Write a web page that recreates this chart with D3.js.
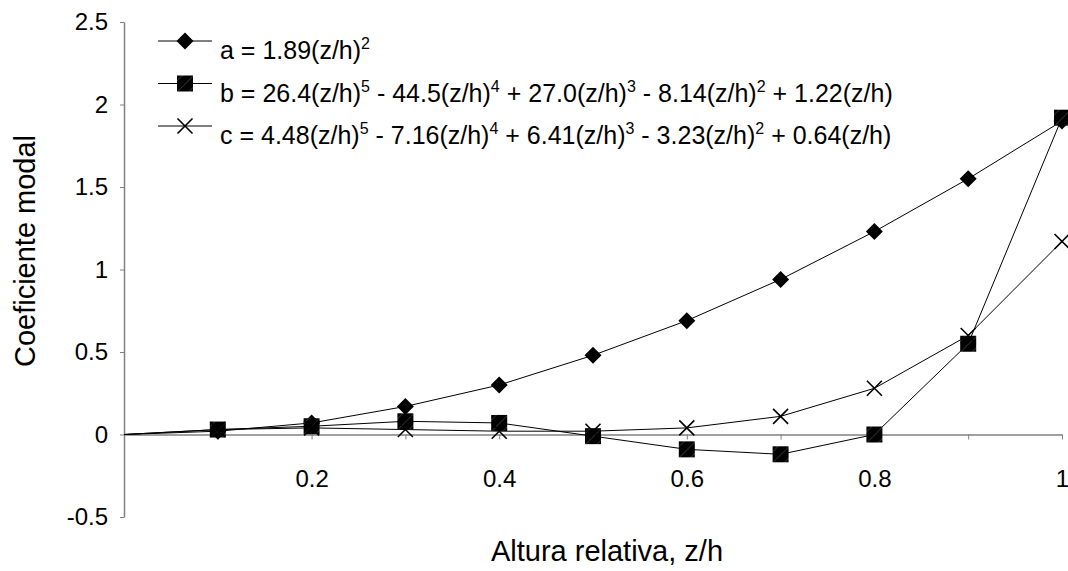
<!DOCTYPE html>
<html>
<head>
<meta charset="utf-8">
<script src="https://cdn.jsdelivr.net/npm/d3@7/dist/d3.min.js"></script>
<style>
  body { margin: 0; background: #fff; }
  text { font-family: "Liberation Sans", Arial, sans-serif; fill: #000; }
  .tick text { font-size: 24px; }
  .axis-label { font-size: 29px; }
  .legend text { font-size: 25px; }
</style>
</head>
<body>
<div id="chart"></div>
<script>
// Data
const zValues = [0, 0.1, 0.2, 0.3, 0.4, 0.5, 0.6, 0.7, 0.8, 0.9, 1];
const seriesA = [0, 0.02, 0.07, 0.17, 0.30, 0.48, 0.69, 0.94, 1.23, 1.55, 1.90];
const seriesB = [0, 0.03, 0.05, 0.08, 0.07, -0.01, -0.09, -0.12, 0.00, 0.55, 1.92];
const seriesC = [0, 0.03, 0.04, 0.03, 0.02, 0.02, 0.04, 0.11, 0.28, 0.60, 1.17];
const xTickLabels = [0.2, 0.4, 0.6, 0.8, 1];
const xTickMarks = [0.1, 0.2, 0.3, 0.4, 0.5, 0.6, 0.7, 0.8, 0.9, 1];
const yTickLabels = [-0.5, 0, 0.5, 1, 1.5, 2, 2.5];
const legendLabels = [
    [["a = 1.89(z/h)", ""], ["2", "sup"]],
    [["b = 26.4(z/h)", ""], ["5", "sup"], [" - 44.5(z/h)", ""], ["4", "sup"], [" + 27.0(z/h)", ""], ["3", "sup"], [" - 8.14(z/h)", ""], ["2", "sup"], [" + 1.22(z/h)", ""]],
    [["c = 4.48(z/h)", ""], ["5", "sup"], [" - 7.16(z/h)", ""], ["4", "sup"], [" + 6.41(z/h)", ""], ["3", "sup"], [" - 3.23(z/h)", ""], ["2", "sup"], [" + 0.64(z/h)", ""]]
];

const width = 1068;
const height = 571;
const margin = { left: 124, right: 6, top: 22, bottom: 54 };

const svg = d3.select("#chart")
    .append("svg")
    .attr("width", width)
    .attr("height", height);

// Square marker fill: black with faint diagonal hatching
const defs = svg.append("defs");
const pat = defs.append("pattern")
    .attr("id", "hatch")
    .attr("patternUnits", "userSpaceOnUse")
    .attr("width", 8)
    .attr("height", 8)
    .attr("patternTransform", "rotate(45)");
pat.append("rect").attr("width", 8).attr("height", 8).attr("fill", "#000");
pat.append("line")
    .attr("x1", 0).attr("y1", 0).attr("x2", 0).attr("y2", 8)
    .attr("stroke", "#555").attr("stroke-width", 1);

const x = d3.scaleLinear()
    .domain([0, 1])
    .range([margin.left, width - margin.right]);

const y = d3.scaleLinear()
    .domain([-0.5, 2.5])
    .range([height - margin.bottom, margin.top]);

// plain hyphen for negatives, like the original
const fmt = d => String(d);

// Left axis
const leftAxis = d3.axisLeft(y)
    .tickValues(yTickLabels)
    .tickSize(4)
    .tickSizeOuter(0)
    .tickPadding(12)
    .tickFormat(fmt);
const gy = svg.append("g")
    .attr("transform", `translate(${margin.left},0)`)
    .call(leftAxis);
gy.select(".domain").attr("stroke", "#808080").attr("stroke-width", 1.5);
gy.selectAll(".tick line").attr("stroke", "#808080");

// Bottom axis at y = 0 (tick marks every 0.1, labels every 0.2)
const bottomMarks = d3.axisBottom(x)
    .tickValues(xTickMarks)
    .tickSize(5)
    .tickSizeOuter(0)
    .tickFormat("");
const gxm = svg.append("g")
    .attr("transform", `translate(0,${y(0)})`)
    .call(bottomMarks);
gxm.select(".domain").attr("stroke", "#808080").attr("stroke-width", 1.5);
gxm.selectAll(".tick line").attr("stroke", "#808080");

const bottomLabels = d3.axisBottom(x)
    .tickValues(xTickLabels)
    .tickSize(0)
    .tickPadding(35)
    .tickFormat(fmt);
const gxl = svg.append("g")
    .attr("transform", `translate(0,${y(0)})`)
    .call(bottomLabels);
gxl.select(".domain").remove();

// Axis labels
svg.append("text")
    .attr("class", "axis-label")
    .attr("text-anchor", "middle")
    .attr("x", 607)
    .attr("y", 561)
    .text("Altura relativa, z/h");

svg.append("text")
    .attr("class", "axis-label")
    .attr("text-anchor", "middle")
    .attr("transform", "translate(35,251) rotate(-90)")
    .text("Coeficiente modal");

// Series
const series = [
    { key: "a", values: seriesA, marker: "diamond" },
    { key: "b", values: seriesB, marker: "square" },
    { key: "c", values: seriesC, marker: "cross" }
];

const line = d3.line()
    .x(d => x(d[0]))
    .y(d => y(d[1]));

const drawMarker = (g, type) => {
    if (type === "diamond") {
        g.append("path")
            .attr("d", "M0,-8.5L8.5,0L0,8.5L-8.5,0Z")
            .attr("fill", "#000");
    } else if (type === "square") {
        g.append("rect")
            .attr("x", -8).attr("y", -8)
            .attr("width", 16).attr("height", 16)
            .attr("fill", "url(#hatch)");
    } else {
        g.append("path")
            .attr("d", "M-7.5,-7.5L7.5,7.5M-7.5,7.5L7.5,-7.5")
            .attr("stroke", "#000")
            .attr("stroke-width", 1.6)
            .attr("fill", "none");
    }
};

series.forEach(s => {
    const pts = zValues.map((z, i) => [z, s.values[i]]);
    svg.append("path")
        .datum(pts)
        .attr("fill", "none")
        .attr("stroke", "#000")
        .attr("stroke-width", 1)
        .attr("d", line);

    svg.append("g")
        .selectAll("g")
        .data(pts.slice(1))
        .join("g")
        .attr("transform", d => `translate(${x(d[0])},${y(d[1])})`)
        .each(function () { drawMarker(d3.select(this), s.marker); });
});

// Legend
const legend = svg.append("g").attr("class", "legend");
const rowY = [41, 83.5, 126];

series.forEach((s, i) => {
    const g = legend.append("g").attr("transform", `translate(0,${rowY[i]})`);
    g.append("line")
        .attr("x1", 158).attr("x2", 212)
        .attr("stroke", "#000").attr("stroke-width", 1);
    const m = g.append("g").attr("transform", "translate(185,0)");
    drawMarker(m, s.marker);

    const t = g.append("text")
        .attr("x", 220)
        .attr("y", 8);
    legendLabels[i].forEach(([txt, kind]) => {
        if (kind === "sup") {
            t.append("tspan").attr("dy", -10).attr("font-size", 16).text(txt);
        } else {
            t.append("tspan").attr("dy", t.selectAll("tspan").size() ? 10 : 0).text(txt);
        }
    });
});
</script>
</body>
</html>
